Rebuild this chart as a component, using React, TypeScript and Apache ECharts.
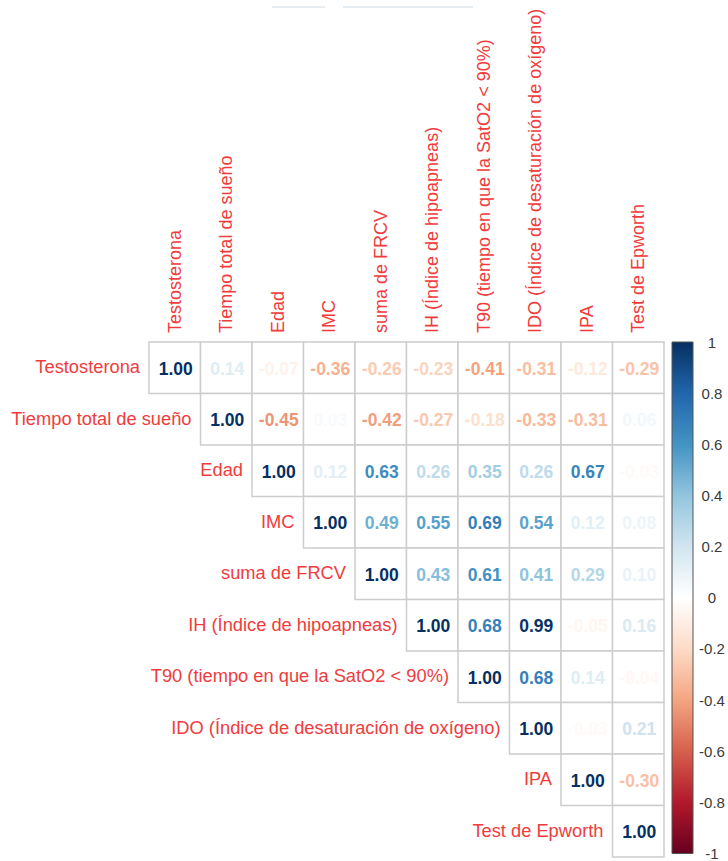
import React, { useEffect, useRef } from "react";
import * as echarts from "echarts";

const variables = [
  "Testosterona",
  "Tiempo total de sueño",
  "Edad",
  "IMC",
  "suma de FRCV",
  "IH (Índice de hipoapneas)",
  "T90 (tiempo en que la SatO2 < 90%)",
  "IDO (Índice de desaturación de oxígeno)",
  "IPA",
  "Test de Epworth",
];

// Upper-triangle correlations, each row starts at the diagonal
const rowTestosterona = [1.0, 0.14, -0.07, -0.36, -0.26, -0.23, -0.41, -0.31, -0.12, -0.29];
const rowTiempoSueno = [1.0, -0.45, 0.03, -0.42, -0.27, -0.18, -0.33, -0.31, 0.06];
const rowEdad = [1.0, 0.12, 0.63, 0.26, 0.35, 0.26, 0.67, -0.03];
const rowIMC = [1.0, 0.49, 0.55, 0.69, 0.54, 0.12, 0.08];
const rowFRCV = [1.0, 0.43, 0.61, 0.41, 0.29, 0.1];
const rowIH = [1.0, 0.68, 0.99, -0.05, 0.16];
const rowT90 = [1.0, 0.68, 0.14, -0.04];
const rowIDO = [1.0, -0.03, 0.21];
const rowIPA = [1.0, -0.3];
const rowEpworth = [1.0];

const rows = [rowTestosterona, rowTiempoSueno, rowEdad, rowIMC, rowFRCV, rowIH, rowT90, rowIDO, rowIPA, rowEpworth];

// RdBu palette from -1 to 1
const palette = ["#67001F", "#B2182B", "#D6604D", "#F4A582", "#FDDBC7", "#FFFFFF", "#D1E5F0", "#92C5DE", "#4393C3", "#2166AC", "#053061"];

const FONT = "'Liberation Sans', Arial, Helvetica, sans-serif";
const LABEL_RED = "#f03c3c";

export default function App() {
  const ref = useRef<HTMLDivElement>(null);
  useEffect(() => {
    if (!ref.current) return;
    const chart = echarts.init(ref.current, null, { renderer: "svg" });

    const cellData: any[] = [];
    rows.forEach((r, i) => {
      r.forEach((v, k) => {
        cellData.push([i + k, i, v]);
      });
    });
    const diagData = variables.map((name, i) => [i, i, name]);

    const gradStops = palette
      .slice()
      .reverse()
      .map((c, k) => ({ offset: k / (palette.length - 1), color: c }));

    const option: any = {
      animation: false,
      backgroundColor: "#ffffff",
      textStyle: { fontFamily: FONT },
      grid: [
        { left: 149, top: 342, width: 515, height: 515, containLabel: false },
        { left: 672, top: 342, width: 21, height: 515, containLabel: false },
      ],
      xAxis: [
        {
          type: "category",
          gridIndex: 0,
          data: variables,
          position: "top",
          axisLine: { show: false },
          axisTick: { show: false },
          splitLine: { show: false },
          axisLabel: {
            rotate: -90,
            color: LABEL_RED,
            fontSize: 18,
            fontFamily: FONT,
            margin: 9,
            interval: 0,
          },
        },
        { type: "value", gridIndex: 1, min: 0, max: 1, show: false },
      ],
      yAxis: [
        {
          type: "category",
          gridIndex: 0,
          data: variables,
          inverse: true,
          axisLine: { show: false },
          axisTick: { show: false },
          axisLabel: { show: false },
          splitLine: { show: false },
        },
        {
          type: "value",
          gridIndex: 1,
          min: -1,
          max: 1,
          interval: 0.2,
          position: "right",
          axisLine: { show: false },
          splitLine: { show: false },
          axisTick: { show: true, length: 4, lineStyle: { color: "#555555", width: 1 } },
          axisLabel: {
            color: "#3a3a3a",
            fontSize: 15,
            fontFamily: FONT,
            margin: 19,
            align: "center",
            formatter: (v: number) => String(Math.round(v * 10) / 10),
          },
        },
      ],
      visualMap: {
        type: "continuous",
        show: false,
        seriesIndex: 0,
        dimension: 2,
        min: -1,
        max: 1,
        inRange: { color: palette },
      },
      graphic: [
        { type: "line", shape: { x1: 272, y1: 7, x2: 325, y2: 7 }, style: { stroke: "#e6edf3", lineWidth: 2 } },
        { type: "line", shape: { x1: 343, y1: 7, x2: 473, y2: 7 }, style: { stroke: "#e6edf3", lineWidth: 2 } },
      ],
      series: [
        {
          type: "custom",
          xAxisIndex: 0,
          yAxisIndex: 0,
          data: cellData,
          renderItem: (params: any, api: any) => {
            const c = api.coord([api.value(0), api.value(1)]);
            const s = api.size([1, 1]);
            const v = api.value(2) as number;
            return {
              type: "group",
              children: [
                {
                  type: "rect",
                  shape: { x: c[0] - s[0] / 2, y: c[1] - s[1] / 2, width: s[0], height: s[1] },
                  style: { fill: "#ffffff", stroke: "#cdcdcd", lineWidth: 1.5 },
                },
                {
                  type: "text",
                  x: c[0] + 1,
                  y: c[1] + 1,
                  style: {
                    text: v.toFixed(2),
                    fill: api.visual("color"),
                    font: `bold 17.5px ${FONT}`,
                    align: "center",
                    verticalAlign: "middle",
                  },
                },
              ],
            };
          },
        },
        {
          type: "custom",
          xAxisIndex: 0,
          yAxisIndex: 0,
          data: diagData,
          renderItem: (params: any, api: any) => {
            const idx = params.dataIndex;
            const c = api.coord([diagData[idx][0], diagData[idx][1]]);
            const s = api.size([1, 1]);
            return {
              type: "text",
              x: c[0] - s[0] / 2 - 9,
              y: c[1] - 1,
              style: {
                text: diagData[idx][2] as string,
                fill: LABEL_RED,
                font: `18.3px ${FONT}`,
                align: "right",
                verticalAlign: "middle",
              },
            };
          },
        },
        {
          type: "custom",
          xAxisIndex: 1,
          yAxisIndex: 1,
          data: [[0, -1, 1, 1]],
          renderItem: (params: any, api: any) => {
            const top = api.coord([api.value(0), api.value(3)]);
            const bot = api.coord([api.value(2), api.value(1)]);
            return {
              type: "rect",
              shape: { x: top[0], y: top[1], width: bot[0] - top[0], height: bot[1] - top[1] },
              style: {
                fill: new echarts.graphic.LinearGradient(0, 0, 0, 1, gradStops),
                stroke: "#555555",
                lineWidth: 1,
              },
            };
          },
        },
      ],
    };
    chart.setOption(option);
    return () => chart.dispose();
  }, []);

  return (
    <div
      ref={ref}
      style={{ position: "absolute", left: 0, top: 0, width: 728, height: 861, background: "#fff" }}
    />
  );
}
